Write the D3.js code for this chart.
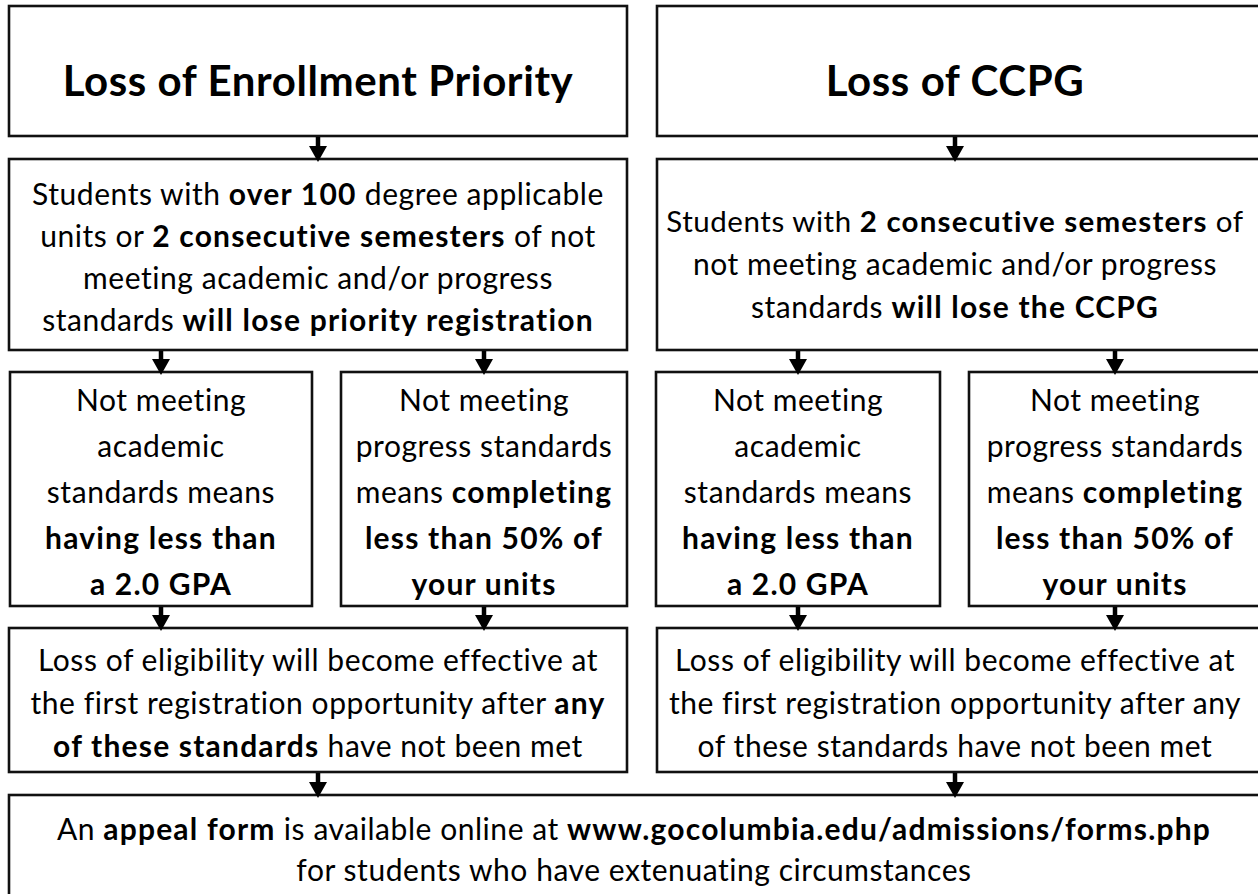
<!DOCTYPE html>
<html>
<head>
<meta charset="utf-8">
<script src="https://cdn.jsdelivr.net/npm/d3@7"></script>
<style>
  html, body { margin: 0; padding: 0; background: #fff; }
  svg { display: block; }
  text { white-space: pre; font-variant-ligatures: none; font-feature-settings: "liga" 0, "clig" 0; }
</style>
</head>
<body>
<svg id="chart"></svg>
<script>
// ---- text content: each line is a list of [text, bold] runs ----
const titleLeft  = [[['Loss of Enrollment Priority', 1]]];
const titleRight = [[['Loss of CCPG', 1]]];

const studentsLeft = [
  [['Students with ', 0], ['over 100', 1], [' degree applicable', 0]],
  [['units or ', 0], ['2 consecutive semesters', 1], [' of not', 0]],
  [['meeting academic and/or progress', 0]],
  [['standards ', 0], ['will lose priority registration', 1]],
];
const studentsRight = [
  [['Students with ', 0], ['2 consecutive semesters', 1], [' of', 0]],
  [['not meeting academic and/or progress', 0]],
  [['standards ', 0], ['will lose the CCPG', 1]],
];
const academicStd = [
  [['Not meeting', 0]],
  [['academic', 0]],
  [['standards means', 0]],
  [['having less than', 1]],
  [['a 2.0 GPA', 1]],
];
const progressStd = [
  [['Not meeting', 0]],
  [['progress standards', 0]],
  [['means ', 0], ['completing', 1]],
  [['less than 50% of', 1]],
  [['your units', 1]],
];
const effectiveLeft = [
  [['Loss of eligibility will become effective at', 0]],
  [['the first registration opportunity after ', 0], ['any', 1]],
  [['of these standards', 1], [' have not been met', 0]],
];
const effectiveRight = [
  [['Loss of eligibility will become effective at', 0]],
  [['the first registration opportunity after any', 0]],
  [['of these standards have not been met', 0]],
];
const appealText = [
  [['An ', 0], ['appeal form', 1], [' is available online at ', 0], ['www.gocolumbia.edu/admissions/forms.php', 1]],
  [['for students who have extenuating circumstances', 0]],
];

// flow: [from box, to box]
const links = [
  ['tL', 'sL'], ['tR', 'sR'],
  ['sL', 'aL'], ['sL', 'pL'], ['sR', 'aR'], ['sR', 'pR'],
  ['aL', 'eL'], ['pL', 'eL'], ['aR', 'eR'], ['pR', 'eR'],
  ['eL', 'ap'], ['eR', 'ap'],
];

// ---- layout ----
const W = 1258, H = 894;
const FONT = "Lato, 'Open Sans', sans-serif";
const BODY = 30, TITLE = 42;
const SPACE_REG = 0.55, SPACE_BOLD = 1.2, SPACE_TITLE = 0.6;

// x0, x1, cx (text centre, right column runs past the page edge)
const colL  = { x0: 9,   x1: 627,  cx: 318 };
const colR  = { x0: 657, x1: 1262, cx: 955 };
const subLL = { x0: 10,  x1: 312,  cx: 161 };
const subLR = { x0: 341, x1: 627,  cx: 484 };
const subRL = { x0: 656, x1: 940,  cx: 798 };
const subRR = { x0: 969, x1: 1262, cx: 1115 };
const full  = { x0: 9,   x1: 1262, cx: 634 };

const rowT = { y0: 6,   y1: 136 };
const rowS = { y0: 159, y1: 350 };
const rowN = { y0: 372, y1: 606 };
const rowE = { y0: 628, y1: 772 };
const rowA = { y0: 795, y1: 905 };

const boxes = [
  { id: 'tL', col: colL,  row: rowT, lines: titleLeft,      title: true, lh: 0,  cy: 81 },
  { id: 'tR', col: colR,  row: rowT, lines: titleRight,     title: true, lh: 0,  cy: 81 },
  { id: 'sL', col: colL,  row: rowS, lines: studentsLeft,   lh: 42, cy: 257 },
  { id: 'sR', col: colR,  row: rowS, lines: studentsRight,  lh: 43, cy: 264 },
  { id: 'aL', col: subLL, row: rowN, lines: academicStd,    lh: 46, cy: 492 },
  { id: 'pL', col: subLR, row: rowN, lines: progressStd,    lh: 46, cy: 492 },
  { id: 'aR', col: subRL, row: rowN, lines: academicStd,    lh: 46, cy: 492 },
  { id: 'pR', col: subRR, row: rowN, lines: progressStd,    lh: 46, cy: 492 },
  { id: 'eL', col: colL,  row: rowE, lines: effectiveLeft,  lh: 43, cy: 703 },
  { id: 'eR', col: colR,  row: rowE, lines: effectiveRight, lh: 43, cy: 703 },
  { id: 'ap', col: full,  row: rowA, lines: appealText,     lh: 41, cy: 850 },
];
const byId = {};
boxes.forEach(b => byId[b.id] = b);

const svg = d3.select('#chart').attr('width', W).attr('height', H)
  .attr('viewBox', `0 0 ${W} ${H}`);
svg.append('rect').attr('width', W).attr('height', H).attr('fill', '#fff');

// boxes
svg.append('g').selectAll('rect').data(boxes).enter().append('rect')
  .attr('x', d => d.col.x0).attr('y', d => d.row.y0)
  .attr('width', d => d.col.x1 - d.col.x0).attr('height', d => d.row.y1 - d.row.y0)
  .attr('fill', 'none').attr('stroke', '#111').attr('stroke-width', 2.6);

// text
const tg = svg.append('g').attr('font-family', FONT).attr('fill', '#000');
boxes.forEach(b => {
  const n = b.lines.length;
  const fs = b.title ? TITLE : BODY;
  const y = d3.scaleLinear().domain([0, n - 1 || 1]).range([b.cy - b.lh * (n - 1) / 2, b.cy + b.lh * (n - 1) / 2]);
  b.lines.forEach((runs, i) => {
    const t = tg.append('text')
      .attr('x', b.col.cx).attr('y', y(i)).attr('dy', '0.36em')
      .attr('text-anchor', 'middle').attr('font-size', fs);
    runs.forEach(([s, bold]) => t.append('tspan')
      .attr('font-weight', bold ? 700 : 400)
      .attr('letter-spacing', b.title ? SPACE_TITLE : (bold ? SPACE_BOLD : SPACE_REG))
      .text(s));
    // shrink a line only if it would overflow its box
    const room = Math.min(b.col.x1, W) - b.col.x0 - 24;
    const len = t.node().getComputedTextLength();
    if (len > room) t.attr('font-size', fs * room / len);
  });
});

// arrows
const ag = svg.append('g').attr('fill', '#000').attr('stroke', '#000');
links.forEach(([a, c]) => {
  const from = byId[a], to = byId[c];
  const narrow = (from.col.x1 - from.col.x0) <= (to.col.x1 - to.col.x0) ? from : to;
  const x = narrow.col.cx, y0 = from.row.y1 + 1, y1 = to.row.y0 + 3;
  const head = 16, hw = 9;
  ag.append('line').attr('x1', x).attr('x2', x).attr('y1', y0).attr('y2', y1 - head + 1)
    .attr('stroke-width', 4.5);
  ag.append('path').attr('stroke', 'none')
    .attr('d', d3.line()([[x - hw, y1 - head], [x + hw, y1 - head], [x, y1]]) + 'Z');
});
</script>
</body>
</html>
